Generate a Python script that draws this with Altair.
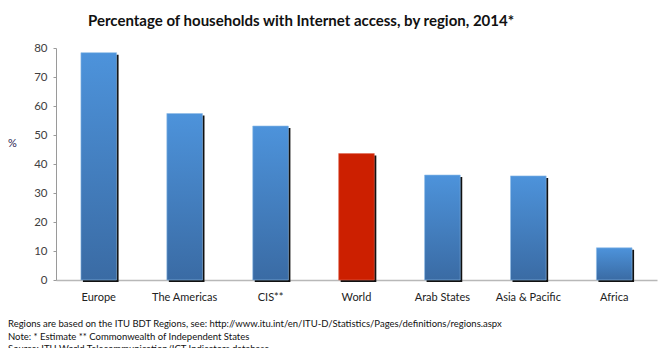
import altair as alt
import pandas as pd

regions = ["Europe", "The Americas", "CIS**", "World", "Arab States", "Asia & Pacific", "Africa"]
values = [78.4, 57.4, 53.1, 43.6, 36.2, 35.9, 11.1]
kinds = ["region", "region", "region", "world", "region", "region", "region"]

title_text = "Percentage of households with Internet access, by region, 2014*"
notes = [
    "Regions are based on the ITU BDT Regions, see: http://www.itu.int/en/ITU-D/Statistics/Pages/definitions/regions.aspx",
    "Note: * Estimate ** Commonwealth of Independent States",
    "Source: ITU World Telecommunication/ICT Indicators database",
]

df = pd.DataFrame({"region": regions, "value": values, "kind": kinds})

FONT = "Lato"
W, H = 601, 232

x = alt.X(
    "region:N",
    sort=regions,
    scale=alt.Scale(paddingInner=0.585, paddingOuter=0.29),
    axis=alt.Axis(
        title=None, labelAngle=0, ticks=False, domainColor="#b8b8b8", domainWidth=1.5,
        labelFont=FONT, labelFontSize=11, labelColor="#222222", labelPadding=11,
    ),
)
y = alt.Y(
    "value:Q",
    scale=alt.Scale(domain=[0, 80], nice=False),
    axis=alt.Axis(
        values=list(range(0, 81, 10)), grid=False, domainColor="#9a9a9a", tickColor="#9a9a9a",
        tickSize=3, labelFont=FONT, labelFontSize=11.5, labelColor="#404040", labelPadding=6,
        title="%", titleAngle=0, titleX=-44, titleY=95, titleAlign="center",
        titleBaseline="middle", titleFont=FONT, titleFontSize=11, titleFontWeight="normal",
        titleColor="#2a1a50",
    ),
)

base = alt.Chart(df)

shadow = base.mark_bar(color="#111111", xOffset=2, yOffset=2).encode(x=x, y=y)

blue = base.transform_filter(alt.datum.kind == "region").mark_bar(
    color=alt.Gradient(
        gradient="linear",
        stops=[alt.GradientStop(color="#4d93db", offset=0), alt.GradientStop(color="#3a6ba4", offset=1)],
        x1=0, x2=0, y1=0, y2=1,
    ),
    stroke="#8fbce8", strokeWidth=0.6,
).encode(x=x, y=y)

red = base.transform_filter(alt.datum.kind == "world").mark_bar(
    color="#cc1f00", stroke="#e06a55", strokeWidth=0.6
).encode(x=x, y=y)

title = alt.Chart(pd.DataFrame({"t": [title_text]})).mark_text(
    font=FONT, fontSize=15, fontWeight="bold", align="left", baseline="alphabetic", color="#111111"
).encode(x=alt.value(88 - 56), y=alt.value(26 - 48), text="t:N")

note_layers = [
    alt.Chart(pd.DataFrame({"t": [n]})).mark_text(
        font=FONT, fontSize=9.5, align="left", baseline="alphabetic", color="#111111"
    ).encode(x=alt.value(8 - 56), y=alt.value(327 - 48 + i * 12.5), text="t:N")
    for i, n in enumerate(notes)
]

chart = alt.layer(shadow, blue, red, title, *note_layers).properties(
    width=W, height=H,
    autosize=alt.AutoSizeParams(type="none"),
    padding={"left": 56, "top": 48, "right": 12, "bottom": 68},
    background="white",
).configure_view(stroke=None)

chart.save("out.html", embed_options={"renderer": "svg", "actions": False})
